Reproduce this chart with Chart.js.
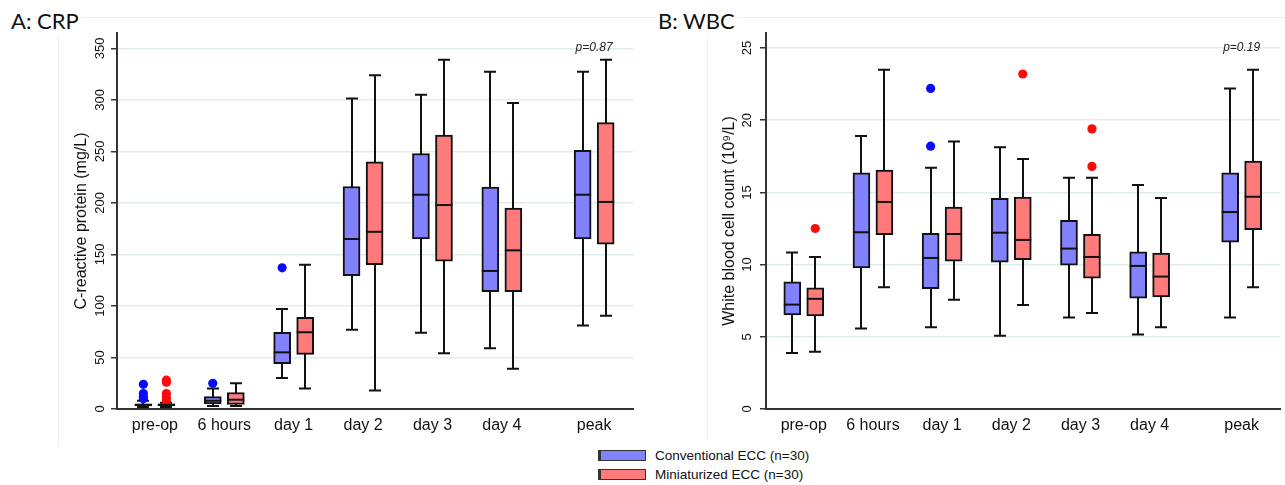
<!DOCTYPE html>
<html><head><meta charset="utf-8">
<script src="https://cdn.jsdelivr.net/npm/chart.js@4.4.1/dist/chart.umd.min.js"></script>
<style>
html,body{margin:0;padding:0;background:#fff;}
body{width:1285px;height:485px;position:relative;overflow:hidden;font-family:Arial,'Liberation Sans',sans-serif;}
.fl{position:absolute;background:#eaf1f1;}
.wrap{position:absolute;top:0;height:445px;}
#wrapA{left:0;width:640px;}
#wrapB{left:640px;width:645px;}
.ptitle{position:absolute;top:7px;font-family:Lato,'Open Sans',sans-serif;font-size:22px;line-height:28px;color:#111;background:#fff;padding:0 3px 0 2px;}
.lrow{position:absolute;left:598px;height:20px;font-size:13.5px;color:#111;white-space:nowrap;}
.sw{position:absolute;left:0;width:44px;height:9px;border:1.5px solid #333;border-left-width:3px;}
.lt{position:absolute;left:57px;line-height:20px;}
</style>
</head><body>
<div class="fl" style="left:58px;top:17px;width:1227px;height:1px;"></div>
<div class="fl" style="left:58px;top:17px;width:1px;height:430px;"></div>
<div class="fl" style="left:707px;top:17px;width:1px;height:423px;"></div>
<div class="wrap" id="wrapA"><canvas id="chartA" width="640" height="445"></canvas></div>
<div class="wrap" id="wrapB"><canvas id="chartB" width="645" height="445"></canvas></div>
<div class="ptitle" style="left:9px;">A: CRP</div>
<div class="ptitle" style="left:656px;">B: WBC</div>
<div id="legend"></div>
<script>
// ---------- data ----------
const categories = ['pre-op', '6 hours', 'day 1', 'day 2', 'day 3', 'day 4', 'peak'];
const seriesNames = ['Conventional ECC (n=30)', 'Miniaturized ECC (n=30)'];

// A: CRP (mg/L) — Conventional ECC
const crpConvLow  = [2, 3, 30, 77, 74, 59, 81];
const crpConvQ1   = [3, 5, 44, 129.5, 165, 114, 165];
const crpConvMed  = [4, 8, 55, 165, 208, 134, 208];
const crpConvQ3   = [5, 12, 74.5, 216, 248, 215.5, 251];
const crpConvHigh = [8, 20, 97, 301.5, 305, 327.5, 327.5];
const crpConvOut  = [[10, 12, 15, 24], [25], [137], [], [], [], []];
// A: CRP (mg/L) — Miniaturized ECC
const crpMiniLow  = [2, 3, 20, 18, 54, 39, 90.5];
const crpMiniQ1   = [3, 4.5, 53, 140, 143.5, 114, 160];
const crpMiniMed  = [4, 9, 74.5, 172, 198, 154, 201];
const crpMiniQ3   = [5, 16, 89, 240, 266, 195, 278];
const crpMiniHigh = [6, 25, 140, 324, 339, 297, 339];
const crpMiniOut  = [[8, 11, 15, 26, 28], [], [], [], [], [], []];
const crpTicks = [0, 50, 100, 150, 200, 250, 300, 350];
const crpP = 'p=0.87';

// B: WBC (10^9/L) — Conventional ECC
const wbcConvLow  = [3.87, 5.58, 5.67, 5.07, 6.34, 5.16, 6.34];
const wbcConvQ1   = [6.52, 9.77, 8.34, 10.17, 9.96, 7.67, 11.55];
const wbcConvMed  = [7.23, 12.24, 10.46, 12.21, 11.11, 9.91, 13.64];
const wbcConvQ3   = [8.80, 16.36, 12.17, 14.59, 13.07, 10.88, 16.36];
const wbcConvHigh = [10.83, 18.9, 16.71, 18.12, 16.02, 15.51, 22.2];
const wbcConvOut  = [[], [], [18.2, 22.2], [], [], [], []];
// B: WBC (10^9/L) — Miniaturized ECC
const wbcMiniLow  = [3.96, 8.44, 7.56, 7.21, 6.64, 5.67, 8.44];
const wbcMiniQ1   = [6.45, 12.08, 10.23, 10.35, 9.06, 7.77, 12.42];
const wbcMiniMed  = [7.63, 14.34, 12.12, 11.71, 10.53, 9.17, 14.7];
const wbcMiniQ3   = [8.39, 16.55, 13.99, 14.68, 12.1, 10.79, 17.17];
const wbcMiniHigh = [10.53, 23.49, 18.53, 17.31, 16.02, 14.61, 23.49];
const wbcMiniOut  = [[12.5], [], [], [23.2], [16.8, 19.4], [], []];
const wbcTicks = [0, 5, 10, 15, 20, 25];
const wbcP = 'p=0.19';

// ---------- styling / layout ----------
const FONT = "Arial, 'Liberation Sans', sans-serif";
const COL_CONV = '#8282ff', COL_MINI = '#ff7b7b';
const OUT_CONV = '#0a0aff', OUT_MINI = '#ff0a0a';
const PEAK_GAP = 0.33;   // extra space before 'peak'
const PAIR_OFF = 0.166;  // half distance between paired boxes
const xPos = categories.map((c, i) => i + 1 + (c === 'peak' ? PEAK_GAP : 0));

function boxPlugin(series, pText) {
  return {
    id: 'boxWhisk',
    beforeDatasetsDraw(chart) {
      const {ctx, scales: {x, y}} = chart;
      ctx.save();
      ctx.strokeStyle = '#111';
      ctx.lineWidth = 2;
      series.forEach(s => {
        s.low.forEach((lo, i) => {
          const px = Math.round(x.getPixelForValue(xPos[i] + s.off));
          const yl = y.getPixelForValue(lo), yh = y.getPixelForValue(s.high[i]);
          ctx.beginPath();
          ctx.moveTo(px, yl); ctx.lineTo(px, yh);
          ctx.moveTo(px - 6, yl); ctx.lineTo(px + 6, yl);
          ctx.moveTo(px - 6, yh); ctx.lineTo(px + 6, yh);
          ctx.stroke();
        });
      });
      ctx.restore();
    },
    afterDatasetsDraw(chart) {
      const {ctx, scales: {x, y}, chartArea} = chart;
      ctx.save();
      ctx.strokeStyle = '#111';
      ctx.lineWidth = 2;
      series.forEach(s => {
        s.med.forEach((m, i) => {
          const px = x.getPixelForValue(xPos[i] + s.off);
          const py = y.getPixelForValue(m);
          ctx.beginPath();
          ctx.moveTo(px - 8.5, py); ctx.lineTo(px + 8.5, py);
          ctx.stroke();
        });
      });
      ctx.fillStyle = '#222';
      ctx.font = 'italic 12px ' + FONT;
      ctx.textAlign = 'center';
      ctx.textBaseline = 'middle';
      ctx.fillText(pText, x.getPixelForValue(xPos[xPos.length - 1]), chartArea.top + 15);
      ctx.restore();
    }
  };
}

function makeChart(id, cfg) {
  const series = [
    {off: -PAIR_OFF, low: cfg.conv[0], q1: cfg.conv[1], med: cfg.conv[2], q3: cfg.conv[3], high: cfg.conv[4], out: cfg.conv[5], fill: COL_CONV, dot: OUT_CONV, name: seriesNames[0]},
    {off: PAIR_OFF, low: cfg.mini[0], q1: cfg.mini[1], med: cfg.mini[2], q3: cfg.mini[3], high: cfg.mini[4], out: cfg.mini[5], fill: COL_MINI, dot: OUT_MINI, name: seriesNames[1]}
  ];
  const datasets = [];
  series.forEach(s => {
    datasets.push({
      type: 'bar', label: s.name,
      data: xPos.map((p, i) => ({x: p + s.off, y: [s.q1[i], s.q3[i]]})),
      backgroundColor: s.fill, borderColor: '#111', borderWidth: 2, borderSkipped: false,
      grouped: false, barPercentage: 1, categoryPercentage: 1, maxBarThickness: 17, order: 2
    });
  });
  series.forEach(s => {
    const pts = [];
    s.out.forEach((arr, i) => arr.forEach(v => pts.push({x: xPos[i] + s.off, y: v})));
    datasets.push({
      type: 'scatter', label: s.name + ' outliers', data: pts,
      pointRadius: 4.6, pointBackgroundColor: s.dot, pointBorderWidth: 0, order: 1
    });
  });
  return new Chart(document.getElementById(id), {
    type: 'bar',
    data: {datasets},
    plugins: [boxPlugin(series, cfg.pText)],
    options: {
      responsive: false, animation: false, events: [],
      layout: {padding: cfg.pad},
      plugins: {legend: {display: false}, tooltip: {enabled: false}, title: {display: false}},
      scales: {
        x: {
          type: 'linear', min: 0.454, max: 7.89, offset: false,
          afterBuildTicks(s) { s.ticks = xPos.map(v => ({value: v})); },
          ticks: {autoSkip: false, minRotation: 0, maxRotation: 0, padding: 7, color: '#111',
                  font: {size: 16, family: FONT}, callback: (v, i) => categories[i]},
          grid: {display: false, drawTicks: false},
          border: {display: true, color: '#333', width: 2},
          afterFit(s) { s.height = 36; }
        },
        y: {
          type: 'linear', min: 0, max: cfg.yMax,
          afterBuildTicks(s) { s.ticks = cfg.ticks.map(v => ({value: v})); },
          ticks: {minRotation: 90, maxRotation: 90, crossAlign: 'center', padding: cfg.tickPad,
                  color: '#111', font: {size: 13, family: FONT}},
          grid: {color: '#e1eded', lineWidth: 1.5, tickColor: '#333', tickLength: 6, tickWidth: 1.5},
          border: {display: true, color: '#333', width: 2},
          title: {display: true, text: cfg.yTitle, color: '#111', font: {size: 16, family: FONT},
                  padding: {top: cfg.titlePad, bottom: 0}},
          afterFit(s) { s.width = cfg.yWidth; }
        }
      }
    }
  });
}

makeChart('chartA', {
  conv: [crpConvLow, crpConvQ1, crpConvMed, crpConvQ3, crpConvHigh, crpConvOut],
  mini: [crpMiniLow, crpMiniQ1, crpMiniMed, crpMiniQ3, crpMiniHigh, crpMiniOut],
  ticks: crpTicks, yMax: 365, pText: crpP, yTitle: 'C-reactive protein (mg/L)',
  pad: {left: 70, right: 7, top: 33, bottom: 0}, yWidth: 47, tickPad: 0, titlePad: 2.4
});
makeChart('chartB', {
  conv: [wbcConvLow, wbcConvQ1, wbcConvMed, wbcConvQ3, wbcConvHigh, wbcConvOut],
  mini: [wbcMiniLow, wbcMiniQ1, wbcMiniMed, wbcMiniQ3, wbcMiniHigh, wbcMiniOut],
  ticks: wbcTicks, yMax: 26.04, pText: wbcP, yTitle: 'White blood cell count (10\u2079/L)',
  pad: {left: 80, right: 4, top: 33, bottom: 0}, yWidth: 46, tickPad: 5.8, titlePad: 0.4
});

// legend (HTML)
const legend = document.getElementById('legend');
[[COL_CONV, 450], [COL_MINI, 469]].forEach((d, k) => {
  const row = document.createElement('div');
  row.className = 'lrow';
  row.style.top = (d[1] - 4) + 'px';
  row.innerHTML = '<span class="sw" style="top:4px;background:' + d[0] + '"></span><span class="lt">' + seriesNames[k] + '</span>';
  legend.appendChild(row);
});
</script>
</body></html>
